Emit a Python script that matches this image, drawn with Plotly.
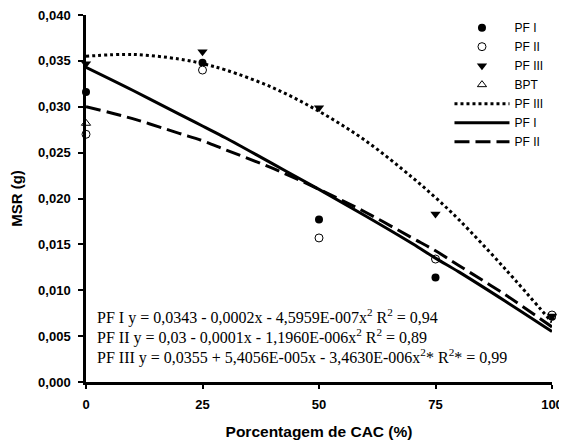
import plotly.graph_objects as go

# Observed means
x_obs = [0, 25, 50, 75, 100]
pf1_obs = [0.0316, 0.0348, 0.0177, 0.0114, 0.0071]
pf2_obs = [0.0270, 0.0340, 0.0157, 0.0134, 0.0073]
pf3_obs = [0.0347, 0.0360, 0.0299, 0.0183, 0.0072]
bpt_x = [0]
bpt_obs = [0.0282]

# Trend curves
x_fit = [0, 10, 20, 25, 30, 40, 50, 60, 70, 75, 80, 90, 100]
pf3_fit = [0.0355, 0.0357, 0.0352, 0.0347, 0.0340, 0.0321, 0.0295, 0.0263, 0.0223, 0.0201, 0.0177, 0.0123, 0.0065]
pf1_fit = [0.0343, 0.0318, 0.0292, 0.0279, 0.0266, 0.0238, 0.0210, 0.0181, 0.0151, 0.0135, 0.0120, 0.0088, 0.0055]
pf2_fit = [0.0300, 0.0287, 0.0271, 0.0263, 0.0253, 0.0233, 0.0210, 0.0185, 0.0157, 0.0143, 0.0127, 0.0095, 0.0060]

x_ticks = [0, 25, 50, 75, 100]
y_ticks = [0.000, 0.005, 0.010, 0.015, 0.020, 0.025, 0.030, 0.035, 0.040]

eq_lines = [
    "PF I y = 0,0343 - 0,0002x - 4,5959E-007x<sup>2</sup> R<sup>2</sup> = 0,94",
    "PF II y = 0,03 - 0,0001x - 1,1960E-006x<sup>2</sup> R<sup>2</sup> = 0,89",
    "PF III y = 0,0355 + 5,4056E-005x - 3,4630E-006x<sup>2</sup>* R<sup>2</sup>* = 0,99",
]

fig = go.Figure()
fig.add_trace(go.Scatter(x=x_obs, y=pf1_obs, mode="markers", name="PF I",
                         marker=dict(symbol="circle", size=8, color="black"), cliponaxis=False))
fig.add_trace(go.Scatter(x=x_obs, y=pf2_obs, mode="markers", name="PF II",
                         marker=dict(symbol="circle", size=8, color="white", line=dict(color="black", width=1)),
                         cliponaxis=False))
fig.add_trace(go.Scatter(x=x_obs, y=pf3_obs, mode="markers", name="PF III",
                         marker=dict(symbol="triangle-down", size=9, color="black"), cliponaxis=False))
fig.add_trace(go.Scatter(x=bpt_x, y=bpt_obs, mode="markers", name="BPT",
                         marker=dict(symbol="triangle-up", size=8, color="white", line=dict(color="black", width=1)),
                         cliponaxis=False))
fig.add_trace(go.Scatter(x=x_fit, y=pf3_fit, mode="lines", name="PF III", line_shape="spline",
                         line=dict(color="black", width=3, dash="dot")))
fig.add_trace(go.Scatter(x=x_fit, y=pf1_fit, mode="lines", name="PF I", line_shape="spline",
                         line=dict(color="black", width=3)))
fig.add_trace(go.Scatter(x=x_fit, y=pf2_fit, mode="lines", name="PF II", line_shape="spline",
                         line=dict(color="black", width=3, dash="15px,6px")))

for i, t in enumerate(eq_lines):
    fig.add_annotation(x=2.0, y=0.0071 - i * 0.00218, xref="x", yref="y", text=t, showarrow=False,
                       xanchor="left", yanchor="middle",
                       font=dict(family="Liberation Serif, Times New Roman", size=16, color="black"))

bold = dict(family="Liberation Sans, Arial", size=13, color="black", weight="bold")
fig.update_layout(
    width=567, height=444,
    margin=dict(l=78, r=23, t=7, b=70, autoexpand=False),
    paper_bgcolor="white", plot_bgcolor="white",
    separators=",.",
    showlegend=True,
    legend=dict(x=0.780, y=1.005, xanchor="left", yanchor="top", tracegroupgap=0,
                font=dict(family="Liberation Sans, Arial", size=12, color="black"),
                itemwidth=55, bgcolor="rgba(0,0,0,0)"),
    xaxis=dict(range=[0, 100], tickvals=x_ticks, showgrid=False, zeroline=False, automargin=False,
               showline=True, linecolor="black", linewidth=2.5, ticks="outside",
               ticklen=4, tickwidth=1.5, tickcolor="black", tickfont=bold, ticklabelstandoff=5,
               ticklabeloverflow="allow",
               title=dict(text="Porcentagem de CAC (%)", font=dict(family="Liberation Sans, Arial", size=15.5, color="black", weight="bold"), standoff=15)),
    yaxis=dict(range=[0, 0.040], tickvals=y_ticks, tickformat=".3f", showgrid=False, zeroline=False, automargin=False,
               showline=True, linecolor="black", linewidth=2.5, ticks="outside",
               ticklen=5, tickwidth=1.5, tickcolor="black", tickfont=bold, ticklabelstandoff=5,
               ticklabeloverflow="allow",
               title=dict(text="MSR (g)", font=dict(family="Liberation Sans, Arial", size=15, color="black", weight="bold"), standoff=12)),
)

fig.write_html("out.html")
